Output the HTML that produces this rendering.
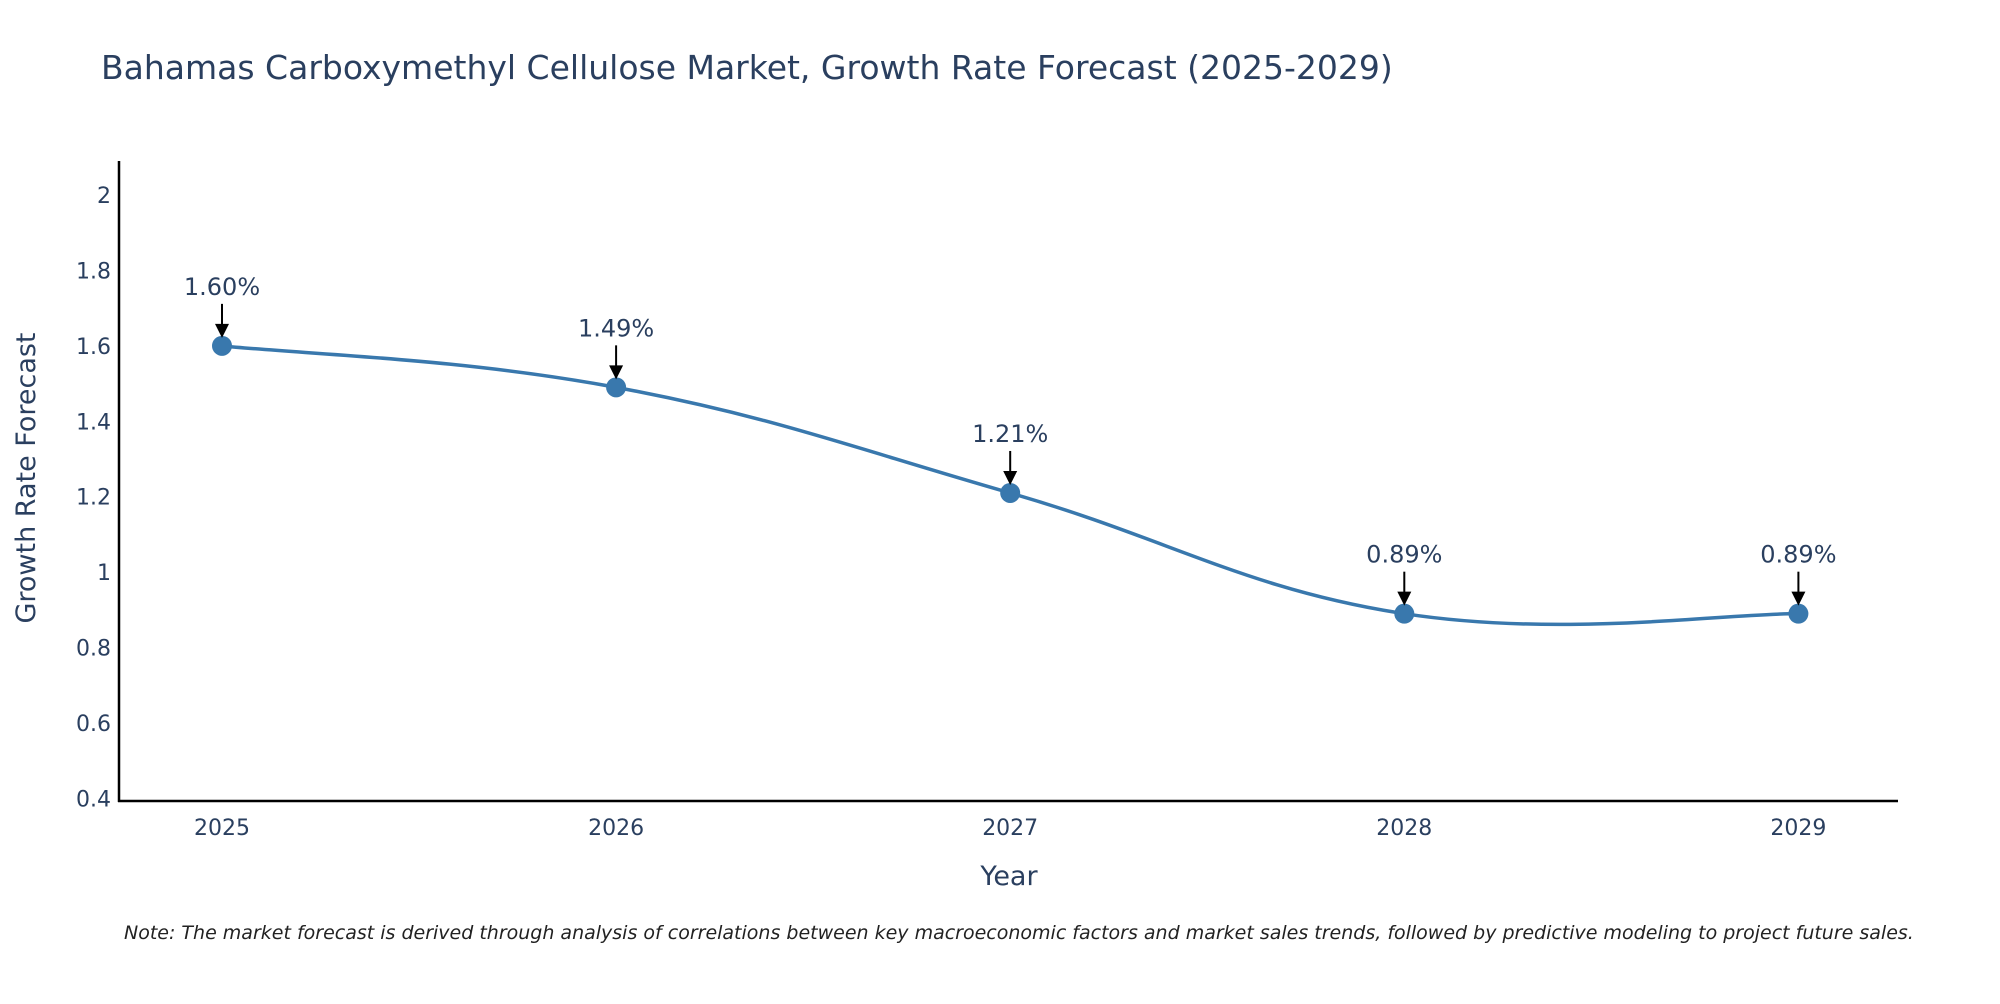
<!DOCTYPE html>
<html><head><meta charset="utf-8"><style>
body{margin:0;background:#fff;width:2000px;height:1000px;overflow:hidden;font-family:"DejaVu Sans","Liberation Sans",sans-serif}
svg text{font-family:"DejaVu Sans","Liberation Sans",sans-serif}
</style></head><body>
<svg id="chart" width="2000" height="1000" xmlns="http://www.w3.org/2000/svg">
<text x="101" y="79" font-size="33" fill="#2a3f5f">Bahamas Carboxymethyl Cellulose Market, Growth Rate Forecast (2025-2029)</text>
<g id="yticks"></g><g id="xticks"></g>
<line x1="119" y1="161" x2="119" y2="802" stroke="#000" stroke-width="2.5"/>
<line x1="118" y1="801" x2="1898" y2="801" stroke="#000" stroke-width="2.5"/>
<path id="line" fill="none" stroke="#3978ad" stroke-width="3.5"/>
<g id="marks"></g>
<text x="1009" y="885" font-size="27" fill="#2a3f5f" text-anchor="middle">Year</text>
<text transform="translate(35,478) rotate(-90)" font-size="27" fill="#2a3f5f" text-anchor="middle">Growth Rate Forecast</text>
<text x="124" y="939" font-size="19" font-style="italic" fill="#222">Note: The market forecast is derived through analysis of correlations between key macroeconomic factors and market sales trends, followed by predictive modeling to project future sales.</text>
</svg>
<script>
const years=[2025,2026,2027,2028,2029];
const values=[1.60,1.49,1.21,0.89,0.89];
const labels=["1.60%","1.49%","1.21%","0.89%","0.89%"];
const yTicks=[0.4,0.6,0.8,1,1.2,1.4,1.6,1.8,2];
const NS="http://www.w3.org/2000/svg";
const X=v=>222+(v-2025)*394.1;
const Y=v=>798.5-(v-0.4)*377.2;
function mk(t,a,p){const e=document.createElementNS(NS,t);for(const k in a)e.setAttribute(k,a[k]);p.appendChild(e);return e;}
const yt=document.getElementById('yticks');
yTicks.forEach(v=>{const t=mk('text',{x:111,y:Y(v)+8,'font-size':22,fill:'#2a3f5f','text-anchor':'end'},yt);


t.textContent=String(v);});
const xt=document.getElementById('xticks');
years.forEach(v=>{const t=mk('text',{x:X(v),y:835,'font-size':22,fill:'#2a3f5f','text-anchor':'middle'},xt);


t.textContent=String(v);});
const pts=years.map((y,i)=>[X(y),Y(values[i])]);
let d=`M${pts[0][0]},${pts[0][1]}`;const s=0.2;
for(let i=0;i<pts.length-1;i++){const p0=pts[Math.max(0,i-1)],p1=pts[i],p2=pts[i+1],p3=pts[Math.min(pts.length-1,i+2)];
d+=` C${p1[0]+(p2[0]-p0[0])*s},${p1[1]+(p2[1]-p0[1])*s} ${p2[0]-(p3[0]-p1[0])*s},${p2[1]-(p3[1]-p1[1])*s} ${p2[0]},${p2[1]}`;}
document.getElementById('line').setAttribute('d',d);
const g=document.getElementById('marks');
pts.forEach((p,i)=>{const c=mk('circle',{cx:p[0],cy:p[1],r:10,fill:'#3978ad'},g);


const a=mk('line',{x1:p[0],y1:p[1]-42,x2:p[0],y2:p[1]-20,stroke:'#000','stroke-width':2},g);


const h=mk('path',{d:`M${p[0]-7},${p[1]-22} L${p[0]+7},${p[1]-22} L${p[0]},${p[1]-8} Z`,fill:'#000'},g);


const t=mk('text',{x:p[0],y:p[1]-51,'font-size':24,fill:'#2a3f5f','text-anchor':'middle'},g);


t.textContent=labels[i];});
</script>
</body></html>
